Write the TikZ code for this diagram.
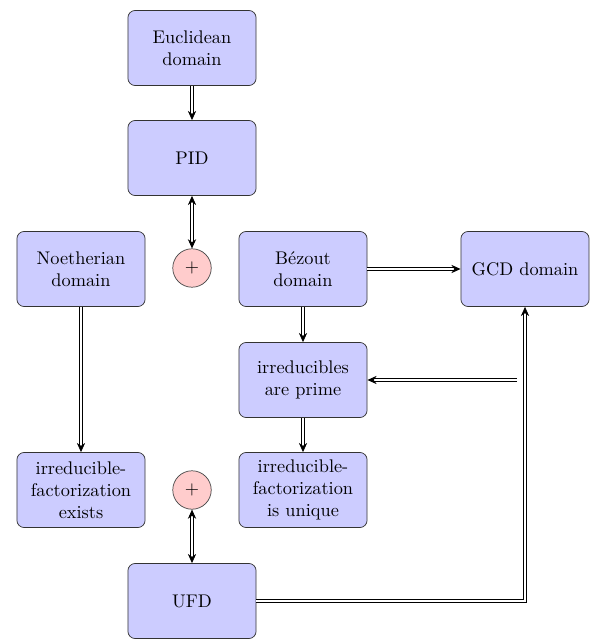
\documentclass[tikz,border=0pt]{standalone}
\usetikzlibrary{arrows.meta}
\begin{document}
\begin{tikzpicture}[x=0.546pt,y=-0.546pt,
 box/.style={draw=black!80, fill=blue!20, rounded corners=4pt, minimum width=70pt, minimum height=41pt, align=center, inner sep=2pt},
 plus/.style={circle, draw=black!70, fill=red!20, minimum size=21pt, inner sep=0pt},
 imp/.style={double, double distance=1pt, -{Stealth[length=5pt,width=4.5pt]}},
 imp2/.style={double, double distance=1pt, {Stealth[length=5pt,width=4.5pt]}-{Stealth[length=5pt,width=4.5pt]}},
 ]
\useasboundingbox (0,0) rectangle (590,639);
\node[box] (eu) at (192,48) {Euclidean\\domain};
\node[box] (pid) at (192,158) {PID};
\node[box] (noe) at (81,269) {Noetherian\\domain};
\node[plus] (p1) at (192,268) {$+$};
\node[box] (bez) at (303,269) {B\'ezout\\domain};
\node[box] (gcd) at (525,269) {GCD domain};
\node[box] (irp) at (303,380) {irreducibles\\are prime};
\node[box] (ife) at (81,490) {irreducible-\\factorization\\exists};
\node[plus] (p2) at (192,490) {$+$};
\node[box] (ifu) at (303,490) {irreducible-\\factorization\\is unique};
\node[box] (ufd) at (192,601) {UFD};
\coordinate (r) at (517,380);
\draw[imp] (eu) -- (pid);
\draw[imp2] (pid) -- (p1);
\draw[imp] (noe) -- (ife);
\draw[imp] (bez) -- (gcd);
\draw[imp] (bez) -- (irp);
\draw[imp] (irp) -- (ifu);
\draw[imp] (r) -- (irp);
\draw[imp2] (p2) -- (ufd);
\draw[imp] (ufd) -| (gcd);
\end{tikzpicture}
\end{document}
